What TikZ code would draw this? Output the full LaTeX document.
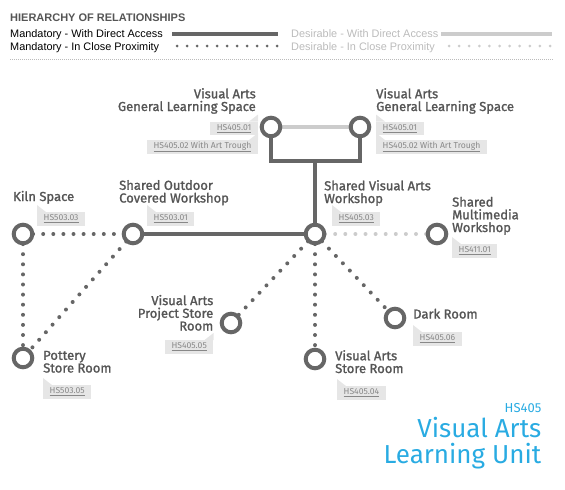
\documentclass[tikz,border=0pt]{standalone}
\usepackage{fontspec}
\setmainfont{Fira Sans}
\newfontfamily\legfont{Liberation Sans}
\newfontfamily\lblfont[FakeBold=1.4]{Fira Sans}
\usetikzlibrary{backgrounds}
\definecolor{dk}{HTML}{666666}
\definecolor{lt}{HTML}{CCCCCC}
\definecolor{txt}{HTML}{555555}
\definecolor{tagc}{HTML}{E6E6E6}
\definecolor{tagt}{HTML}{888888}
\definecolor{cyanT}{HTML}{29ABE2}
\definecolor{legl}{HTML}{BBBBBB}
\newcommand\mytagl[3]{%
  \node[tag,anchor=north west] (#1) at #2 {\underline{#3}};
  \fill[tagc] (#1.north west) -- ++(0,-7) -- ++(9,7) -- cycle;}
\newcommand\mytagr[3]{%
  \node[tag,anchor=north east] (#1) at #2 {\underline{#3}};
  \fill[tagc] (#1.north east) -- ++(0,-7) -- ++(-9,7) -- cycle;}
\begin{document}
\begin{tikzpicture}[x=1pt,y=-1pt,
 room/.style={circle,draw=dk,line width=4pt,fill=white,minimum size=18.6pt,inner sep=0pt},
 mline/.style={draw=dk,line width=4pt},
 dline/.style={draw=lt,line width=4pt},
 mdots/.style={draw=dk,line width=4pt,line cap=round,dash pattern=on 0pt off 10.1pt},
 ddots/.style={draw=lt,line width=4pt,line cap=round,dash pattern=on 0pt off 10.1pt},
 lbl/.style={font=\lblfont\fontsize{13}{12.7}\selectfont,text=txt,inner sep=0pt},
 lblL/.style={lbl,align=left,anchor=base west},
 lblR/.style={lbl,align=right,anchor=base east},
 tag/.style={fill=tagc,text=tagt,font=\fontsize{8.6}{9}\selectfont,minimum height=13.5pt,inner xsep=6.5pt,inner ysep=0pt},
 leg/.style={font=\legfont\fontsize{10.9}{11}\selectfont,anchor=base west,inner sep=0pt},
]
\useasboundingbox (0,0) rectangle (565,490);

% legend
\node[font=\legfont\bfseries\fontsize{11}{11}\selectfont,text=txt,anchor=base west,inner sep=0pt] (head) at (10,21) {HIERARCHY OF RELATIONSHIPS};
\node[leg,text=black] (l1) at (10,37.5) {Mandatory - With Direct Access};
\node[leg,text=black] (l2) at (10,50) {Mandatory - In Close Proximity};
\node[leg,text=legl] (l3) at (291,37.5) {Desirable - With Direct Access};
\node[leg,text=legl] (l4) at (291,50) {Desirable - In Close Proximity};
\draw[dk,line width=4pt] (172,34) -- (278,34);
\draw[dk,line width=3pt,line cap=round,dash pattern=on 0pt off 10pt] (177,46) -- (277.5,46);
\draw[lt,line width=4pt] (441,34) -- (552,34);
\draw[lt,line width=3pt,line cap=round,dash pattern=on 0pt off 10.1pt] (449,46) -- (550.5,46);
\draw[legl,line width=0.8pt,dash pattern=on 0.8pt off 1.2pt] (10,59.5) -- (553,59.5);

% rooms
\node[room] (gl) at (271,127) {};
\node[room] (gr) at (360,127) {};
\node[room] (svaw) at (315,234) {};
\node[room] (kiln) at (23,234) {};
\node[room] (socw) at (133,234) {};
\node[room] (pot) at (23,358) {};
\node[room] (pst) at (231,323) {};
\node[room] (dark) at (395,318) {};
\node[room] (vast) at (315,359) {};
\node[room] (mm) at (437,234) {};
\coordinate (br) at (315,161);

% connectors
\begin{scope}[on background layer]
\draw[dline] (gl.center) -- (gr.center);
\draw[mline] (gl.center) |- (br) -| (gr.center);
\draw[mline] (br) -- (svaw.center);
\draw[mline] (socw.center) -- (svaw.center);
\draw[mdots] (kiln.center) -- (socw.center);
\draw[mdots] (kiln.center) -- (pot.center);
\draw[mdots] (socw.center) -- (pot.center);
\draw[mdots] (svaw.center) -- (pst.center);
\draw[mdots] (svaw.center) -- (vast.center);
\draw[mdots] (svaw.center) -- (dark.center);
\draw[ddots] (svaw.center) -- (mm.center);
\end{scope}

% labels (anchor = baseline of last line)
\node[lblR] (tgl) at (256,111) {Visual Arts\\General Learning Space};
\node[lblL] (tgr) at (376,111) {Visual Arts\\General Learning Space};
\node[lblL] (tkiln) at (13,201) {Kiln Space};
\node[lblL] (tsocw) at (119,202.5) {Shared Outdoor\\Covered Workshop};
\node[lblL] (tsvaw) at (324,203) {Shared Visual Arts\\Workshop};
\node[lblL] (tmm) at (452,232) {Shared\\Multimedia\\Workshop};
\node[lblL] (tdark) at (413,318.5) {Dark Room};
\node[lblL] (tvast) at (335,373) {Visual Arts\\Store Room};
\node[lblR] (tpst) at (213.5,330.5) {Visual Arts\\Project Store\\Room};
\node[lblL] (tpot) at (43,372.5) {Pottery\\Store Room};

% tags
\mytagr{ggl1}{(258,121.5)}{HS405.01}
\mytagr{ggl2}{(258,140)}{HS405.02 With Art Trough}
\mytagl{ggr1}{(376,121.5)}{HS405.01}
\mytagl{ggr2}{(376,140)}{HS405.02 With Art Trough}
\mytagl{gkiln}{(37,212)}{HS503.03}
\mytagl{gsocw}{(147,212)}{HS503.01}
\mytagl{gsvaw}{(332,212)}{HS405.03}
\mytagl{gmm}{(452,244)}{HS411.01}
\mytagl{gdark}{(413,332)}{HS405.06}
\mytagl{gvast}{(337,386)}{HS405.04}
\mytagr{gpst}{(213.5,340)}{HS405.05}
\mytagl{gpot}{(43,385)}{HS503.05}

% title
\node[font=\fontsize{13}{13}\selectfont,text=cyanT,anchor=base east,inner sep=0pt] (code) at (541.5,412.5) {HS405};
\node[font=\fontsize{26}{26.5}\selectfont,text=cyanT,anchor=base east,align=right,inner sep=0pt] (title) at (541.5,463.5) {Visual Arts\\Learning Unit};
\end{tikzpicture}
\end{document}
